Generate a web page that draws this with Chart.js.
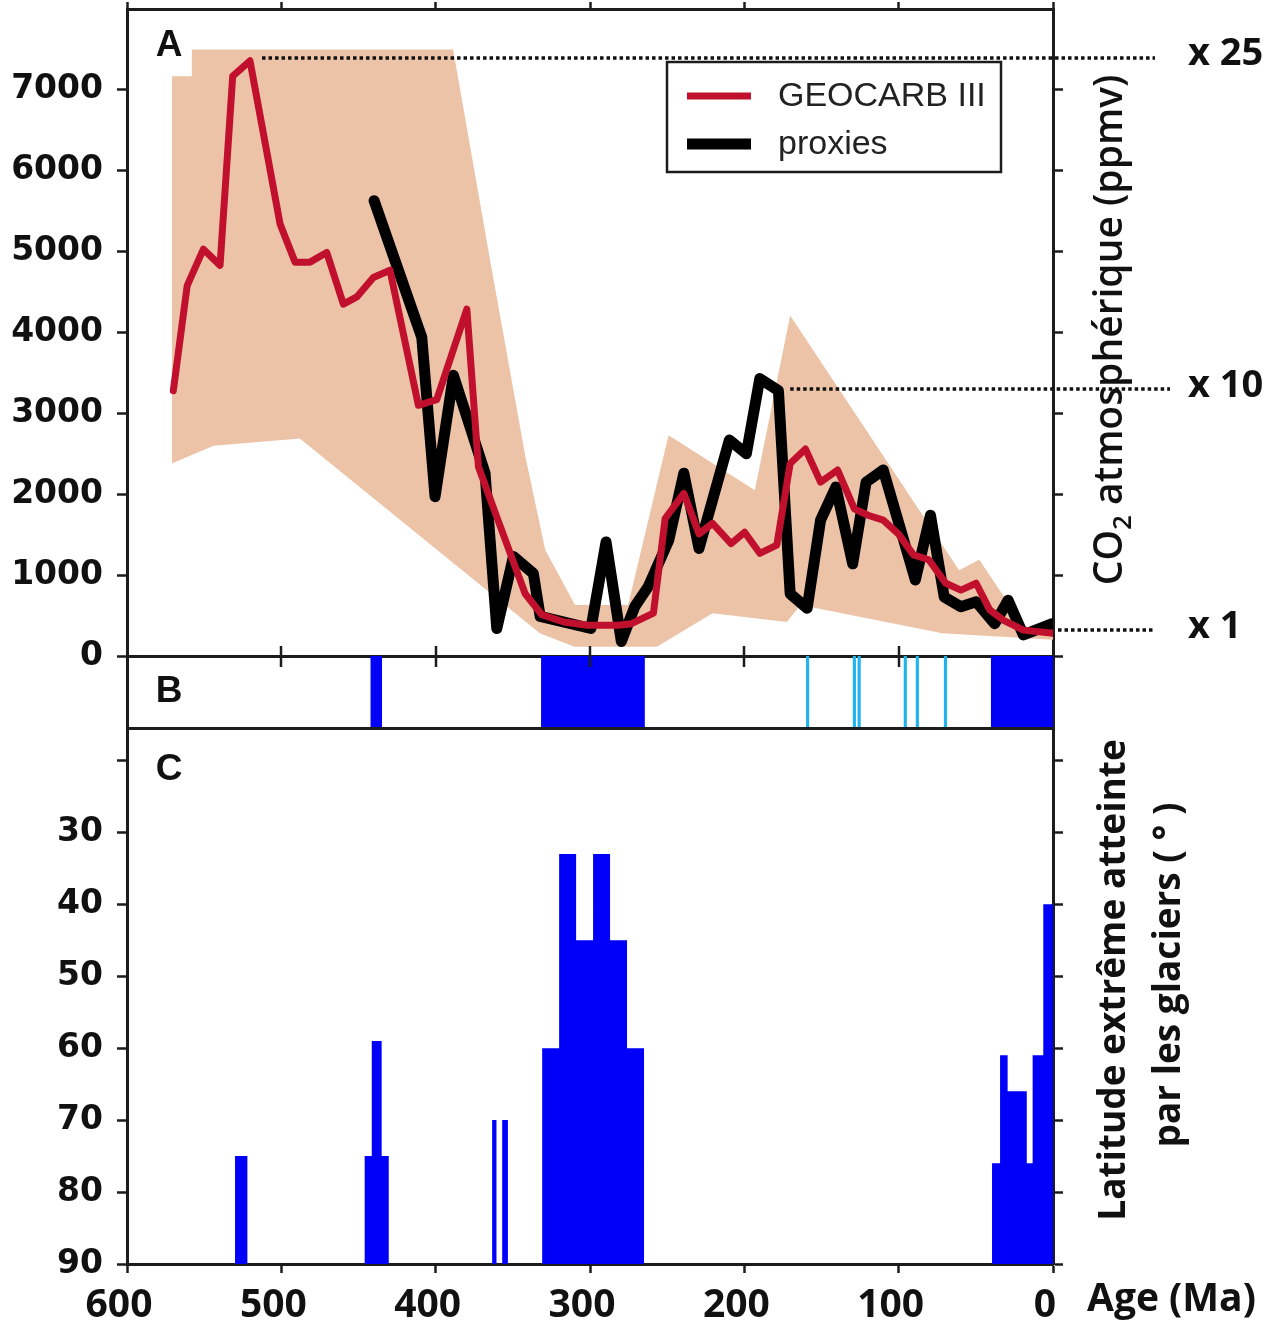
<!DOCTYPE html>
<html>
<head>
<meta charset="utf-8">
<script src="https://cdn.jsdelivr.net/npm/chart.js@4.4.1/dist/chart.umd.min.js"></script>
<style>
  html, body { margin: 0; padding: 0; background: #fff; }
  #wrap { position: relative; width: 1268px; height: 1326px; overflow: hidden; background: #fff; }
  #wrap canvas { position: absolute; left: 0; }
</style>
</head>
<body>
<div id="wrap">
  <canvas id="chartA" width="1268" height="680" style="top:0px"></canvas>
  <canvas id="chartB" width="1268" height="100" style="top:640px"></canvas>
  <canvas id="chartC" width="1268" height="606" style="top:720px"></canvas>
</div>
<script>
// ---------- Panel A: atmospheric CO2 (ppmv) versus age (Ma) ----------
const geocarbAge = [570, 561, 550.5, 539.7, 531.5, 520.3, 500.8, 491.1, 481.4, 470.6, 459.8, 451.1, 440.4, 429.6,
  411.2, 399.3, 379.8, 372.3, 360.4, 342, 331.2, 316.9, 301.6, 281.9, 273.1, 258.9, 251.3, 239.2, 229.4, 220.6,
  208.6, 199.8, 190, 179, 170.3, 160.4, 150.6, 139.6, 128.7, 119.9, 110, 100.2, 90.4, 80.5, 69.5, 59.7, 49.8,
  41, 32.3, 19.2, 0];
const geocarbCO2 = [3280, 4580, 5030, 4830, 7170, 7360, 5340, 4870, 4870, 4990, 4350, 4440, 4680, 4770,
  3100, 3170, 4290, 2340, 1720, 770, 510, 420, 380, 380, 400, 530, 1700, 2010, 1510, 1640,
  1390, 1530, 1270, 1370, 2380, 2560, 2150, 2300, 1820, 1740, 1680, 1510, 1250, 1190, 900, 815, 900,
  570, 445, 320, 280];

const proxyAge = [439.9, 409, 400.4, 388.5, 368, 360.4, 349.6, 336.7, 332.3, 299.4, 289.6, 279.7, 271, 262.2,
  249, 239.2, 229.4, 209.7, 198.7, 190, 177.9, 170.3, 159.3, 150.6, 140.7, 129.8, 121.1, 110, 89.2, 79.4,
  70.5, 59.7, 49.8, 37.8, 29.1, 19.2, 0.5];
const proxyCO2 = [5630, 3940, 1970, 3470, 2260, 340, 1230, 1020, 490, 340, 1410, 180, 610, 860,
  1430, 2260, 1330, 2670, 2500, 3430, 3280, 770, 590, 1680, 2090, 1140, 2150, 2300, 940, 1740,
  730, 610, 670, 400, 690, 260, 400];

const envelopeTopAge = [571, 558, 558, 388.7, 364.7, 342, 329, 309.7, 275.3, 249.1, 193.2, 170.3, 60.8, 47.8, 19.3, 0];
const envelopeTopCO2 = [7170, 7170, 7500, 7500, 4890, 2480, 1310, 630, 630, 2730, 2050, 4210, 1060, 1190, 380, 235];
const envelopeBottomAge = [571, 544, 488, 332.5, 310, 256.7, 220.6, 172.4, 163.6, 71.7, 0];
const envelopeBottomCO2 = [2380, 2600, 2690, 280, 115, 115, 530, 420, 630, 280, 200];

const co2Ticks = [0, 1000, 2000, 3000, 4000, 5000, 6000, 7000];
const ratioLevels = [7400, 3300, 320];
const ratioLabels = ['x 25', 'x 10', 'x 1'];

// ---------- Panel B: glacial intervals ----------
const majorStart = [442, 331.5, 40];
const majorEnd = [435, 264.7, 0];
const minorStart = [159.8, 129.5, 126.4, 96.5, 88.7, 70.5];
const minorEnd = [158.2, 127.9, 124.8, 94.9, 87.1, 68.9];

// ---------- Panel C: lowest latitude reached by glaciers ----------
const latStart = [530, 446, 441.4, 435, 363.4, 356.9, 331, 320, 309, 298, 287, 276, 39.5, 34.3, 29.4, 17, 13.2, 6.3];
const latEnd   = [522, 441.4, 435, 430.4, 360.6, 353.2, 320, 309, 298, 287, 276, 265, 34.3, 29.4, 17, 13.2, 6.3, 0];
const latValue = [75, 75, 59, 75, 70, 70, 60, 33, 45, 33, 45, 60, 76, 61, 66, 76, 61, 40];
const latBase = 90;
const latTicks = [20, 30, 40, 50, 60, 70, 80, 90];
const latTickLabels = ['', '30', '40', '50', '60', '70', '80', '90'];

const ageTicks = [600, 500, 400, 300, 200, 100, 0];

// ---------- shared styling ----------
const TEXT = '#111';
const AXIS = '#1c1c1c';
const RED = '#c1102e';
const TAN = '#ecc3a6';
const BLUE = '#0000fa';
const CYAN = '#1eb4f0';
const PLOT_LEFT = 127, PLOT_RIGHT_GAP = 215;
const numFont = { family: '"DejaVu Sans", Verdana, sans-serif', size: 33, weight: 'bold' };
const ageFont = { family: '"Open Sans", sans-serif', size: 39, weight: 'bold' };

const pts = (xs, ys) => xs.map((x, i) => ({ x, y: ys[i] }));

function fixSize(size) {
  return function (axis) {
    if (axis.isHorizontal()) axis.height = size; else axis.width = size;
    axis.paddingTop = 0; axis.paddingBottom = 0; axis.paddingLeft = 0; axis.paddingRight = 0;
  };
}
const border = { display: true, width: 3, color: AXIS };
const tickGrid = (len) => ({ display: true, drawOnChartArea: false, drawTicks: true, tickLength: len, tickWidth: 2.5, tickColor: AXIS });
const hiddenTicks = { display: false };

function ageAxis(position, size, extra) {
  return Object.assign({
    type: 'linear', position, min: 0, max: 600, reverse: true,
    afterBuildTicks: (axis) => { axis.ticks = ageTicks.map(v => ({ value: v })); },
    afterFit: fixSize(size),
    border, grid: { display: false }, ticks: hiddenTicks
  }, extra || {});
}

const baseOptions = {
  responsive: false, animation: false, events: [],
  layout: { padding: 0, autoPadding: false },
  plugins: { legend: { display: false }, tooltip: { enabled: false }, filler: { drawTime: 'beforeDatasetsDraw' } }
};

// ---------- Panel A ----------
const panelA = {
  id: 'panelA',
  afterDatasetsDraw(chart) {
    const { ctx, chartArea: ca, scales } = chart;
    const x = scales.x, y = scales.y;
    ctx.save();
    // ratio guide lines (dotted) and their labels
    const ratioFrom = [512.5, 170.3, null];
    const ratioTo = [ca.right + 102, ca.right + 117, ca.right + 102];
    ctx.strokeStyle = TEXT; ctx.lineWidth = 3.5; ctx.setLineDash([3.5, 3]);
    ratioLevels.forEach((lvl, i) => {
      const py = Math.round(y.getPixelForValue(lvl));
      const x0 = ratioFrom[i] === null ? ca.right + 5 : x.getPixelForValue(ratioFrom[i]);
      ctx.beginPath(); ctx.moveTo(x0, py); ctx.lineTo(ratioTo[i], py); ctx.stroke();
    });
    ctx.setLineDash([]);
    ctx.fillStyle = TEXT; ctx.font = 'bold 38px "Open Sans", sans-serif';
    ctx.textAlign = 'left'; ctx.textBaseline = 'middle';
    ratioLevels.forEach((lvl, i) => {
      ctx.fillText(ratioLabels[i], ca.right + 135, y.getPixelForValue(lvl) - 3);
    });

    // panel letter
    ctx.font = 'bold 37px "Liberation Sans", Arial, sans-serif';
    ctx.textAlign = 'center';
    ctx.fillText('A', ca.left + 42, ca.top + 37);

    // legend box
    const lx = ca.right - 386, ly = ca.top + 53, lw = 334, lh = 110;
    ctx.fillStyle = '#fff'; ctx.fillRect(lx, ly, lw, lh);
    ctx.strokeStyle = AXIS; ctx.lineWidth = 2.5; ctx.strokeRect(lx, ly, lw, lh);
    const items = [chart.data.datasets[0], chart.data.datasets[1]];
    const rowY = [ly + 34, ly + 82];
    const sampleW = [7, 11];
    ctx.font = '34px "Liberation Sans", Arial, sans-serif';
    ctx.textAlign = 'left'; ctx.textBaseline = 'middle';
    items.forEach((ds, i) => {
      ctx.strokeStyle = ds.borderColor; ctx.lineWidth = sampleW[i]; ctx.lineCap = 'butt';
      ctx.beginPath(); ctx.moveTo(lx + 20, rowY[i]); ctx.lineTo(lx + 84, rowY[i]); ctx.stroke();
      ctx.fillStyle = '#222';
      ctx.fillText(ds.label, lx + 111, rowY[i] + 1);
    });

    // right-hand axis title, reading upwards, with subscript 2
    ctx.translate(ca.right + 69, 330);
    ctx.rotate(-Math.PI / 2);
    ctx.fillStyle = TEXT; ctx.textBaseline = 'alphabetic'; ctx.textAlign = 'left';
    const mainF = '600 39px "Open Sans", sans-serif';
    const subF = '600 26px "Open Sans", sans-serif';
    const parts = [['CO', mainF, 0], ['2', subF, 9], [' atmosphérique (ppmv)', mainF, 0]];
    let total = 0;
    parts.forEach(p => { ctx.font = p[1]; total += ctx.measureText(p[0]).width; });
    let cx = -total / 2;
    parts.forEach(p => { ctx.font = p[1]; ctx.fillText(p[0], cx, p[2]); cx += ctx.measureText(p[0]).width; });
    ctx.restore();
  }
};

new Chart(document.getElementById('chartA'), {
  type: 'line',
  data: {
    datasets: [
      { label: 'GEOCARB III', data: pts(geocarbAge, geocarbCO2), borderColor: RED, borderWidth: 7,
        borderJoinStyle: 'round', borderCapStyle: 'round', pointRadius: 0, fill: false, order: 1 },
      { label: 'proxies', data: pts(proxyAge, proxyCO2), borderColor: '#000', borderWidth: 11,
        borderJoinStyle: 'round', borderCapStyle: 'round', pointRadius: 0, fill: false, order: 2 },
      { label: 'enveloppe haute', data: pts(envelopeTopAge, envelopeTopCO2), borderColor: 'rgba(0,0,0,0)',
        borderWidth: 1, backgroundColor: TAN, pointRadius: 0, fill: '+1', order: 3 },
      { label: 'enveloppe basse', data: pts(envelopeBottomAge, envelopeBottomCO2), borderColor: 'rgba(0,0,0,0)',
        borderWidth: 1, pointRadius: 0, fill: false, order: 3 }
    ]
  },
  options: Object.assign({}, baseOptions, {
    scales: {
      x: ageAxis('bottom', 24),
      xTop: ageAxis('top', 9, { grid: tickGrid(7) }),
      y: {
        type: 'linear', position: 'left', min: 0, max: 8000,
        afterBuildTicks: (axis) => { axis.ticks = co2Ticks.map(v => ({ value: v })); },
        afterFit: fixSize(PLOT_LEFT),
        border, grid: tickGrid(10),
        ticks: { font: numFont, color: TEXT, padding: 14, callback: v => String(v) }
      },
      yRight: {
        type: 'linear', position: 'right', min: 0, max: 8000,
        afterBuildTicks: (axis) => { axis.ticks = co2Ticks.map(v => ({ value: v })); },
        afterFit: fixSize(PLOT_RIGHT_GAP),
        border, grid: tickGrid(10), ticks: hiddenTicks
      }
    }
  }),
  plugins: [panelA]
});

// ---------- Panel B ----------
const panelB = {
  id: 'panelB',
  afterDraw(chart) {
    const { ctx, chartArea: ca, scales } = chart;
    ctx.save();
    ctx.strokeStyle = AXIS; ctx.lineWidth = 2.5;
    ageTicks.forEach(v => {
      if (v === 600 || v === 0) return;
      const px = Math.round(scales.x.getPixelForValue(v));
      ctx.beginPath(); ctx.moveTo(px, ca.top - 10); ctx.lineTo(px, ca.top + 11); ctx.stroke();
    });
    ctx.fillStyle = TEXT; ctx.font = 'bold 37px "Liberation Sans", Arial, sans-serif';
    ctx.textAlign = 'center'; ctx.textBaseline = 'middle';
    ctx.fillText('B', ca.left + 42, ca.top + 36);
    ctx.restore();
  }
};

new Chart(document.getElementById('chartB'), {
  type: 'bar',
  data: {
    labels: ['B'],
    datasets: [
      { label: 'glaciations', data: majorStart.map((s, i) => ({ y: 'B', x: [s, majorEnd[i]] })),
        backgroundColor: BLUE, borderWidth: 0, barPercentage: 1, categoryPercentage: 1, grouped: false },
      { label: 'épisodes froids', data: minorStart.map((s, i) => ({ y: 'B', x: [s, minorEnd[i]] })),
        backgroundColor: CYAN, borderWidth: 0, barPercentage: 1, categoryPercentage: 1, grouped: false }
    ]
  },
  options: Object.assign({}, baseOptions, {
    indexAxis: 'y',
    scales: {
      x: ageAxis('bottom', 12),
      xTop: ageAxis('top', 16),
      y: { type: 'category', position: 'left', afterFit: fixSize(PLOT_LEFT), border, grid: { display: false }, ticks: hiddenTicks },
      yRight: { type: 'category', position: 'right', labels: ['B'], afterFit: fixSize(PLOT_RIGHT_GAP), border, grid: { display: false }, ticks: hiddenTicks }
    }
  }),
  plugins: [panelB]
});

// ---------- Panel C ----------
const latPoints = [];
latStart.forEach((s, i) => {
  latPoints.push({ x: s, y: latBase }, { x: s, y: latValue[i] }, { x: latEnd[i], y: latValue[i] }, { x: latEnd[i], y: latBase });
});

const panelC = {
  id: 'panelC',
  afterDraw(chart) {
    const { ctx, chartArea: ca } = chart;
    ctx.save();
    ctx.fillStyle = TEXT;
    ctx.font = 'bold 37px "Liberation Sans", Arial, sans-serif';
    ctx.textAlign = 'center'; ctx.textBaseline = 'middle';
    ctx.fillText('C', ca.left + 42, ca.top + 42);

    ctx.font = 'bold 39px "Open Sans", sans-serif';
    ctx.textAlign = 'left'; ctx.textBaseline = 'alphabetic';
    ctx.fillText('Age (Ma)', ca.right + 34, ca.bottom + 47);

    ctx.translate(ca.right + 72, 260);
    ctx.rotate(-Math.PI / 2);
    ctx.textAlign = 'center';
    ctx.font = 'bold 37px "Open Sans", sans-serif';
    ctx.fillText('Latitude extrême atteinte', 0, 0);
    ctx.fillText('par les glaciers ( ° )', 5, 55);
    ctx.restore();
  }
};

new Chart(document.getElementById('chartC'), {
  type: 'line',
  data: {
    datasets: [
      { label: 'latitude', data: latPoints, borderColor: 'rgba(0,0,0,0)', borderWidth: 1,
        backgroundColor: BLUE, pointRadius: 0, fill: { value: latBase } }
    ]
  },
  options: Object.assign({}, baseOptions, {
    scales: {
      x: ageAxis('bottom', 62, {
        grid: tickGrid(9),
        ticks: { display: true, font: ageFont, color: TEXT, padding: 9, maxRotation: 0, autoSkip: false,
                 labelOffset: -8, callback: v => String(v) }
      }),
      xTop: ageAxis('top', 8),
      y: {
        type: 'linear', position: 'left', min: 15.5, max: 90, reverse: true,
        afterBuildTicks: (axis) => { axis.ticks = latTicks.map(v => ({ value: v })); },
        afterFit: fixSize(PLOT_LEFT),
        border, grid: tickGrid(10),
        ticks: { font: numFont, color: TEXT, padding: 14, callback: (v, i) => latTickLabels[i] }
      },
      yRight: {
        type: 'linear', position: 'right', min: 15.5, max: 90, reverse: true,
        afterBuildTicks: (axis) => { axis.ticks = latTicks.map(v => ({ value: v })); },
        afterFit: fixSize(PLOT_RIGHT_GAP),
        border, grid: tickGrid(10), ticks: hiddenTicks
      }
    }
  }),
  plugins: [panelC]
});
</script>
</body>
</html>
